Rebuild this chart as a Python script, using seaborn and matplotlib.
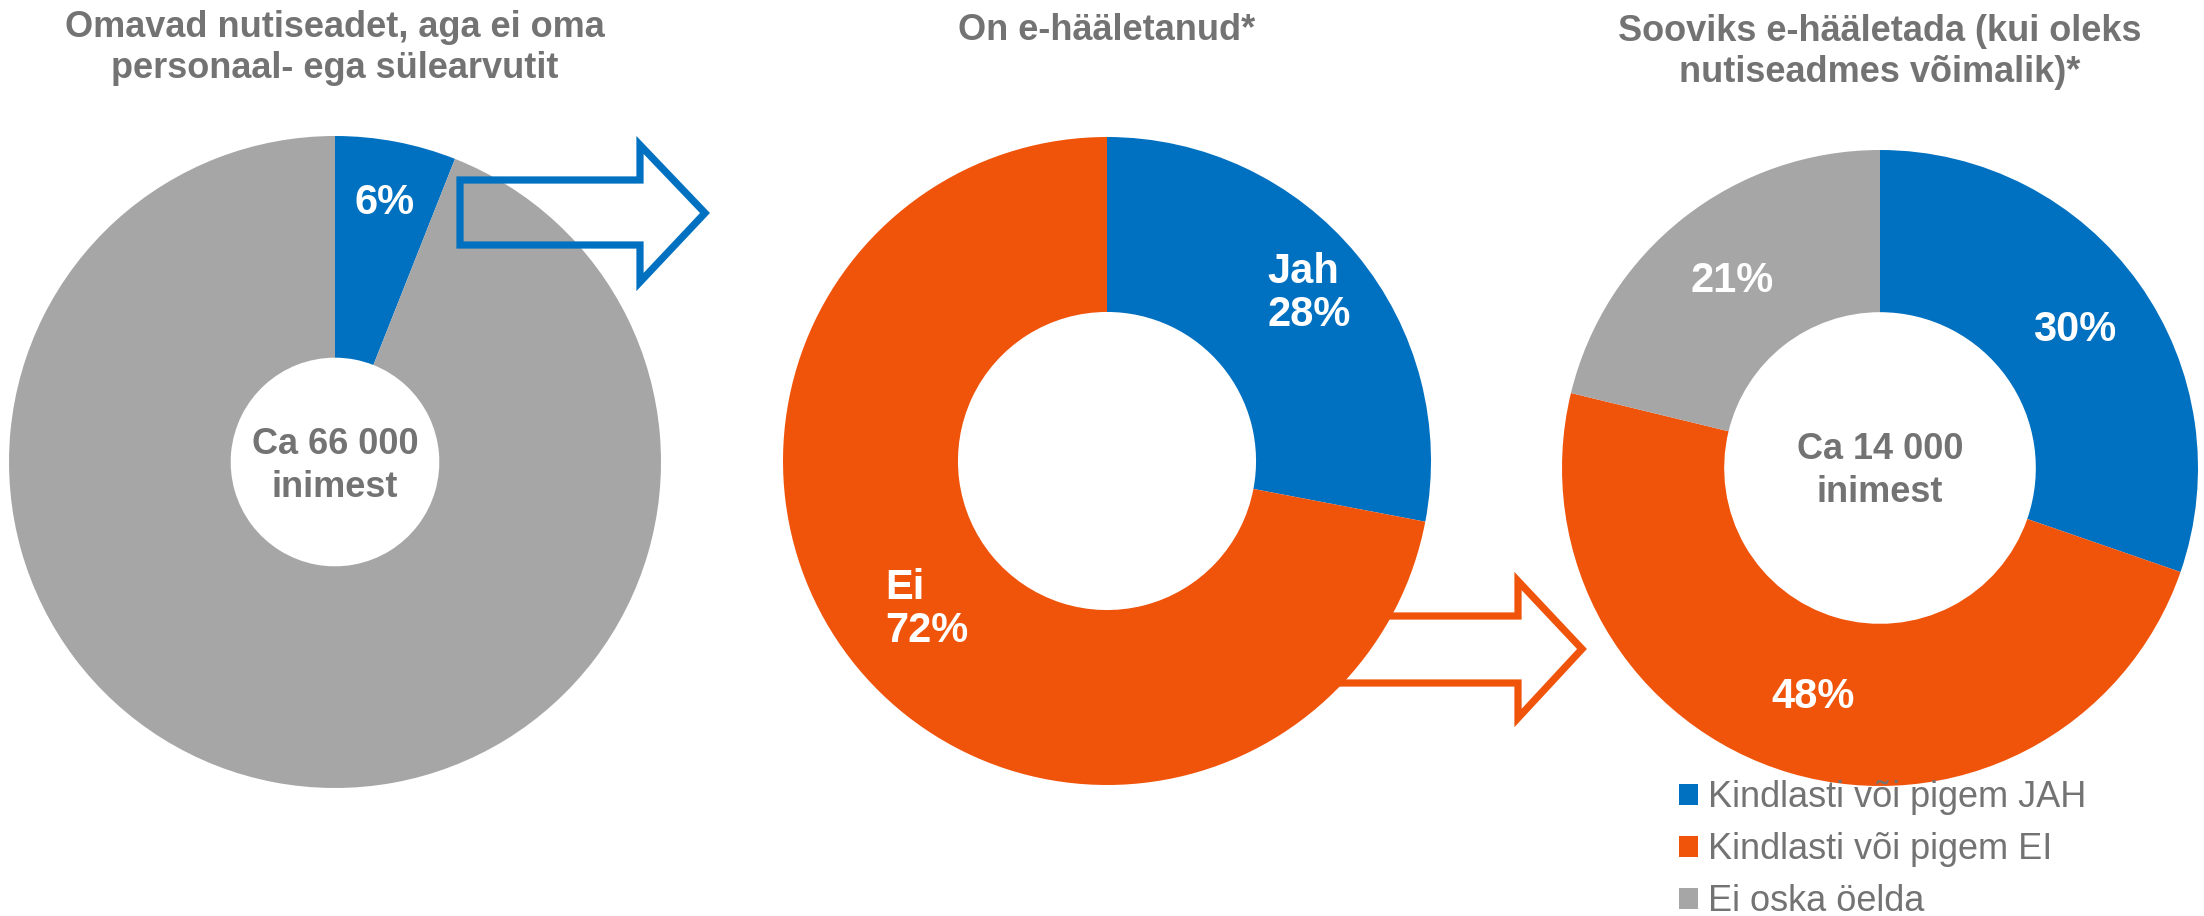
import matplotlib
matplotlib.use("Agg")
import matplotlib.pyplot as plt
import seaborn as sns
import numpy as np
from matplotlib.patches import Polygon

# Andmed
d1_labels = ["Jah", "Ei"]
d1_values = [6, 94]
d1_center_text = "Ca 66 000\ninimest"

d2_labels = ["Jah", "Ei"]
d2_values = [28, 72]

d3_labels = ["Kindlasti või pigem JAH", "Kindlasti või pigem EI", "Ei oska öelda"]
d3_values = [30, 48, 21]
d3_center_text = "Ca 14 000\ninimest"

titles = ["Omavad nutiseadet, aga ei oma\npersonaal- ega sülearvutit",
          "On e-hääletanud*",
          "Sooviks e-hääletada (kui oleks\nnutiseadmes võimalik)*"]

BLUE = "#0070C0"
ORANGE = "#F0530A"
GRAY = "#A6A6A6"
TEXT = "#737373"

sns.set_theme(style="white")
plt.rcParams['font.family'] = ['Liberation Sans', 'DejaVu Sans']

W, H = 2204, 916
fig = plt.figure(figsize=(W / 100, H / 100), dpi=100)
ax = fig.add_axes([0, 0, 1, 1])
ax.set_xlim(0, W)
ax.set_ylim(0, H)
ax.set_aspect('equal')
ax.axis('off')


def y(v):
    # pildi y -> andmete y
    return H - v


def donut(values, colors, center, radius, hole, zorder=2):
    wedges, _ = ax.pie(values, colors=colors, startangle=90, counterclock=False,
                       center=center, radius=radius, frame=True,
                       wedgeprops=dict(width=radius * (1 - hole), linewidth=0, zorder=zorder))
    return wedges


def wedge_label(w, text, frac, **kw):
    ang = np.deg2rad((w.theta1 + w.theta2) / 2)
    cx, cy = w.center
    ax.text(cx + w.r * frac * np.cos(ang), cy + w.r * frac * np.sin(ang), text,
            ha='center', va='center', color='white', fontsize=30, fontweight='bold',
            linespacing=1.1, zorder=6, **kw)


def center_text(cx, cy, text):
    ax.text(cx, cy, text, ha='center', va='center', color=TEXT,
            fontsize=26, fontweight='bold', linespacing=1.28, zorder=6)


centers = [(335, 462), (1107, 461), (1880, 468)]

# Donut 1
w1 = donut(d1_values, [BLUE, GRAY], (centers[0][0], y(centers[0][1])), 326, 0.32)
wedge_label(w1[0], f"{d1_values[0]}%", 0.81)
center_text(centers[0][0], y(466), d1_center_text)

# Donut 2
w2 = donut(d2_values, [BLUE, ORANGE], (centers[1][0], y(centers[1][1])), 324, 0.46, zorder=3)
wedge_label(w2[0], f"{d2_labels[0]}\n{d2_values[0]}%", 0.81, multialignment='left')
wedge_label(w2[1], f"{d2_labels[1]}\n{d2_values[1]}%", 0.72, multialignment='left')

# Donut 3
w3 = donut(d3_values, [BLUE, ORANGE, GRAY], (centers[2][0], y(centers[2][1])), 318, 0.49)
for w, v in zip(w3, d3_values):
    wedge_label(w, f"{v}%", 0.75)
center_text(centers[2][0], y(471), d3_center_text)

ax.set_xlim(0, W)
ax.set_ylim(0, H)

# Pealkirjad (viimase rea baasjoon)
for (cx, _), ty, t in zip(centers, [78, 40, 82], titles):
    ax.text(cx, y(ty), t, ha='center', va='baseline', color=TEXT, fontsize=26,
            fontweight='bold', linespacing=1.22)

# Nooled
blue_arrow = [(460, 180), (640, 180), (640, 145), (705, 213), (640, 282), (640, 245), (460, 245)]
ax.add_patch(Polygon([(px, y(py)) for px, py in blue_arrow], closed=True, fill=False,
                     edgecolor=BLUE, linewidth=5.2, joinstyle='miter', zorder=5))
orange_arrow = [(1250, 616), (1518, 616), (1518, 581), (1582, 649), (1518, 718), (1518, 683), (1250, 683)]
ax.add_patch(Polygon([(px, y(py)) for px, py in orange_arrow], closed=True, fill=False,
                     edgecolor=ORANGE, linewidth=5.2, joinstyle='miter', zorder=1))

# Legend
leg = ax.legend(w3, d3_labels, loc='upper left', bbox_to_anchor=(1679 / W, 1 - 780 / H),
                frameon=False, fontsize=26, handlelength=0.52, handleheight=0.52,
                handletextpad=0.28, labelspacing=0.47, borderaxespad=0, borderpad=0)
for t in leg.get_texts():
    t.set_color(TEXT)

fig.savefig("out.png", dpi=100)
